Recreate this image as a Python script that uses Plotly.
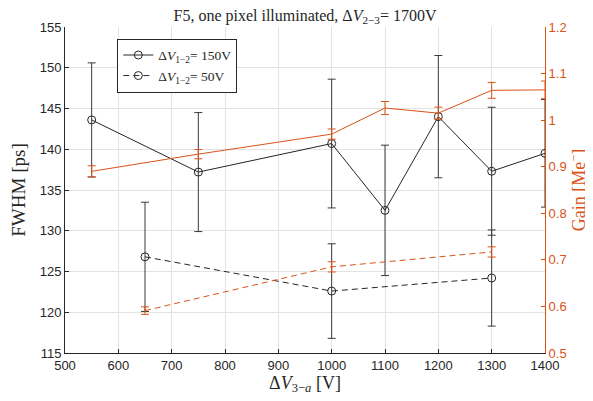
import plotly.graph_objects as go

# ---- data ----
x_150 = [550, 750, 1000, 1100, 1200, 1300, 1400]
fwhm_150 = [143.6, 137.2, 140.7, 132.5, 144.0, 137.3, 139.5]
fwhm_150_err = [7.0, 7.3, 7.9, 8.0, 7.5, 7.85, 6.6]
gain_150 = [0.890, 0.927, 0.970, 1.026, 1.015, 1.064, 1.065]
gain_150_err = [0.012, 0.010, 0.011, 0.014, 0.013, 0.017, 0.019]

x_50 = [650, 1000, 1300]
fwhm_50 = [126.8, 122.6, 124.2]
fwhm_50_err = [6.7, 5.8, 5.9]
gain_50 = [0.591, 0.685, 0.717]
gain_50_err = [0.008, 0.011, 0.011]

x_ticks = [500, 600, 700, 800, 900, 1000, 1100, 1200, 1300, 1400]
y_ticks = [115, 120, 125, 130, 135, 140, 145, 150, 155]
y2_ticks = [0.5, 0.6, 0.7, 0.8, 0.9, 1.0, 1.1, 1.2]
y2_labels = ["0.5", "0.6", "0.7", "0.8", "0.9", "1", "1.1", "1.2"]

BLACK = "#262626"
ERRGRAY = "#3a3a3a"
ORANGE = "#D95319"
SERIF = "Liberation Serif, DejaVu Serif, serif"
SANS = "Liberation Sans, Arial, sans-serif"

fig = go.Figure()

# orange gain curves (right axis)
fig.add_trace(go.Scatter(
    x=x_150, y=gain_150, yaxis="y2", mode="lines",
    line=dict(color=ORANGE, width=1),
    error_y=dict(type="data", array=gain_150_err, color=ORANGE, thickness=1, width=4),
    showlegend=False))
fig.add_trace(go.Scatter(
    x=x_50, y=gain_50, yaxis="y2", mode="lines",
    line=dict(color=ORANGE, width=1, dash="6px,4px"),
    error_y=dict(type="data", array=gain_50_err, color=ORANGE, thickness=1, width=4),
    showlegend=False))

# black FWHM curves (left axis)
fig.add_trace(go.Scatter(
    x=x_150, y=fwhm_150, mode="lines+markers",
    name="Δ<i>V</i><sub>1−2</sub>= 150V",
    line=dict(color=BLACK, width=1),
    marker=dict(symbol="circle-open", size=8, color=BLACK, line=dict(width=1)),
    error_y=dict(type="data", array=fwhm_150_err, color=ERRGRAY, thickness=1, width=4)))
fig.add_trace(go.Scatter(
    x=x_50, y=fwhm_50, mode="lines+markers",
    name="Δ<i>V</i><sub>1−2</sub>= 50V",
    line=dict(color=BLACK, width=1, dash="6px,4px"),
    marker=dict(symbol="circle-open", size=8, color=BLACK, line=dict(width=1)),
    error_y=dict(type="data", array=fwhm_50_err, color=ERRGRAY, thickness=1, width=4)))

# page body adds an 8px offset, so the figure is drawn 8px smaller
W, H = 585, 393
fig.update_layout(
    width=W, height=H,
    margin=dict(l=56.5, r=47.5, t=19.3, b=47.7, autoexpand=False),
    paper_bgcolor="white", plot_bgcolor="white",
    font=dict(family=SANS, size=13, color=BLACK),
    title=dict(text="F5, one pixel illuminated, Δ<i>V</i><sub>2−3</sub>= 1700V",
               xref="paper", x=0.5, xanchor="center",
               yref="container", y=1 - 7.0 / H, yanchor="middle",
               font=dict(family=SERIF, size=16, color=BLACK)),
    xaxis=dict(range=[500, 1400], tickvals=x_ticks, showgrid=True,
               gridcolor="#e3e3e3", gridwidth=1, zeroline=False,
               showline=True, linecolor=BLACK, linewidth=1,
               ticks="inside", ticklen=4, tickcolor=BLACK,
               tickfont=dict(family=SANS, size=13, color=BLACK),
               title=dict(text="Δ<i>V</i><sub>3−<i>a</i></sub> [V]",
                          font=dict(family=SERIF, size=18, color=BLACK), standoff=2)),
    yaxis=dict(range=[115, 155], tickvals=y_ticks, showgrid=True,
               gridcolor="#e3e3e3", gridwidth=1, zeroline=False,
               showline=True, linecolor=BLACK, linewidth=1,
               ticks="inside", ticklen=4, tickcolor=BLACK,
               tickfont=dict(family=SANS, size=13, color=BLACK),
               title=dict(text="FWHM [ps]",
                          font=dict(family=SERIF, size=19, color=BLACK), standoff=13)),
    yaxis2=dict(range=[0.5, 1.2], tickvals=y2_ticks, ticktext=y2_labels,
                overlaying="y", side="right", showgrid=False, zeroline=False,
                showline=True, linecolor=ORANGE, linewidth=1,
                ticks="inside", ticklen=4, tickcolor=ORANGE,
                tickfont=dict(family=SANS, size=13, color=ORANGE),
                title=dict(text="Gain [Me<sup>−</sup>]",
                           font=dict(family=SERIF, size=18, color=ORANGE), standoff=6)),
    legend=dict(x=0.109, y=0.964, xanchor="left", yanchor="top",
                bgcolor="white", bordercolor=BLACK, borderwidth=1,
                font=dict(family=SERIF, size=13.5, color=BLACK),
                tracegroupgap=0, itemwidth=30),
)

fig.write_html("out.html")
